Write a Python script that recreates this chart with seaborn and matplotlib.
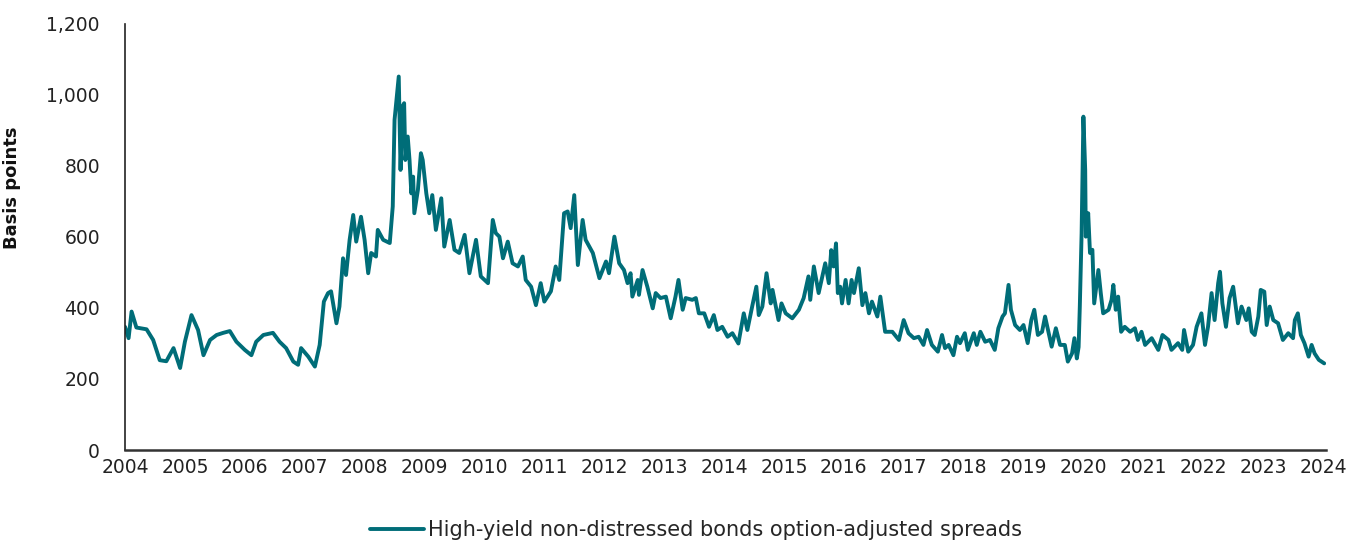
import matplotlib
matplotlib.use("Agg")
import matplotlib.pyplot as plt
import matplotlib.ticker as mticker
import seaborn as sns
import pandas as pd

# Spread readings (decimal year, basis points)
years = [
    2004.00, 2004.06, 2004.11, 2004.19, 2004.36, 2004.47, 2004.58, 2004.69, 2004.81, 2004.92,
    2005.00, 2005.11, 2005.22, 2005.31, 2005.42, 2005.53, 2005.64, 2005.75, 2005.86,
    2006.00, 2006.11, 2006.19, 2006.31, 2006.47, 2006.58, 2006.69, 2006.81, 2006.89, 2006.94,
    2007.06, 2007.17, 2007.25, 2007.32, 2007.39, 2007.44, 2007.53, 2007.58, 2007.64, 2007.69,
    2007.75, 2007.81, 2007.86, 2007.94,
    2008.00, 2008.06, 2008.11, 2008.19, 2008.22, 2008.31, 2008.42, 2008.47, 2008.50, 2008.57,
    2008.60, 2008.63, 2008.66, 2008.68, 2008.72, 2008.75, 2008.78, 2008.81, 2008.83, 2008.89,
    2008.94, 2008.97,
    2009.03, 2009.08, 2009.13, 2009.19, 2009.28, 2009.33, 2009.42, 2009.50, 2009.58, 2009.67,
    2009.75, 2009.86, 2009.94,
    2010.06, 2010.14, 2010.19, 2010.25, 2010.31, 2010.39, 2010.47, 2010.56, 2010.64, 2010.69,
    2010.78, 2010.86, 2010.94,
    2011.00, 2011.11, 2011.19, 2011.25, 2011.33, 2011.39, 2011.44, 2011.50, 2011.56, 2011.64,
    2011.69, 2011.81, 2011.92,
    2012.03, 2012.08, 2012.17, 2012.25, 2012.33, 2012.39, 2012.44, 2012.47, 2012.56, 2012.58,
    2012.64, 2012.72, 2012.81, 2012.86, 2012.94,
    2013.03, 2013.11, 2013.19, 2013.24, 2013.31, 2013.36, 2013.47, 2013.53, 2013.58, 2013.67,
    2013.75, 2013.83, 2013.89, 2013.97,
    2014.06, 2014.14, 2014.24, 2014.33, 2014.39, 2014.47, 2014.54, 2014.58, 2014.64, 2014.71,
    2014.78, 2014.81, 2014.91, 2014.96,
    2015.03, 2015.14, 2015.25, 2015.33, 2015.41, 2015.44, 2015.50, 2015.58, 2015.69, 2015.75,
    2015.79, 2015.83, 2015.87, 2015.90, 2015.94, 2015.97,
    2016.03, 2016.08, 2016.13, 2016.17, 2016.25, 2016.31, 2016.36, 2016.42, 2016.47, 2016.56,
    2016.61, 2016.69, 2016.81, 2016.92,
    2017.00, 2017.08, 2017.17, 2017.25, 2017.33, 2017.39, 2017.47, 2017.57, 2017.64, 2017.69,
    2017.75, 2017.83, 2017.89, 2017.94,
    2018.02, 2018.07, 2018.17, 2018.22, 2018.28, 2018.36, 2018.44, 2018.52, 2018.58, 2018.65,
    2018.69, 2018.75, 2018.79, 2018.86, 2018.94,
    2019.00, 2019.07, 2019.13, 2019.18, 2019.24, 2019.31, 2019.36, 2019.42, 2019.47, 2019.54,
    2019.61, 2019.69, 2019.74, 2019.81, 2019.85, 2019.89, 2019.92, 2019.94, 2019.97,
    2020.00, 2020.03, 2020.04, 2020.08, 2020.11, 2020.15, 2020.18, 2020.25, 2020.29, 2020.33,
    2020.42, 2020.47, 2020.50, 2020.54, 2020.58, 2020.63, 2020.69, 2020.78, 2020.86, 2020.91,
    2020.97,
    2021.03, 2021.14, 2021.25, 2021.32, 2021.42, 2021.47, 2021.58, 2021.65, 2021.68, 2021.75,
    2021.83, 2021.89, 2021.97,
    2022.03, 2022.08, 2022.14, 2022.19, 2022.25, 2022.28, 2022.32, 2022.38, 2022.44, 2022.50,
    2022.58, 2022.64, 2022.72, 2022.76, 2022.81, 2022.86, 2022.92, 2022.96,
    2023.02, 2023.06, 2023.11, 2023.17, 2023.25, 2023.33, 2023.42, 2023.50, 2023.53, 2023.58,
    2023.63, 2023.69, 2023.76, 2023.81, 2023.86, 2023.93, 2024.02,
]
spreads = [
    347, 315, 390, 345, 340, 310, 253, 250, 287, 231,
    305, 380, 338, 267, 310, 324, 330, 335, 305,
    282, 267, 305, 324, 330, 305, 287, 249, 240, 287,
    263, 235, 296, 418, 442, 447, 357, 404, 540, 493,
    592, 662, 587, 657,
    592, 498, 555, 545, 620, 592, 583, 686, 930, 1052,
    789, 967, 977, 817, 883, 817, 723, 770, 667, 733,
    836, 817,
    723, 667, 718, 620, 709, 573, 648, 564, 555, 606,
    498, 592, 489,
    470, 648, 611, 601, 540, 587, 526, 517, 545, 479,
    460, 408, 470,
    418, 447, 517, 479, 667, 672, 625, 718, 521, 648,
    592, 555, 484,
    531, 498, 601, 526, 507, 470, 498, 432, 479, 437,
    507, 460, 399, 442, 428,
    432, 371, 432, 479, 395, 428, 423, 428, 385, 385,
    347, 380, 338, 347,
    319, 329, 300, 385, 338, 404, 460, 380, 404, 498,
    413, 451, 366, 413,
    385, 371, 395, 428, 489, 423, 517, 442, 526, 470,
    563, 517, 582, 442, 460, 413,
    479, 413, 479, 442, 512, 408, 442, 385, 418, 376,
    432, 333, 333, 310,
    366, 329, 315, 319, 296, 338, 296, 277, 324, 287,
    296, 267, 319, 301,
    329, 282, 329, 296, 333, 305, 310, 282, 343, 376,
    385, 465, 395, 352, 338,
    352, 301, 366, 395, 324, 333, 376, 329, 291, 343,
    296, 296, 249, 272, 315, 258, 290, 404, 610,
    939, 789, 601, 667, 555, 564, 413, 507, 442, 385,
    395, 423, 465, 395, 432, 333, 347, 333, 343, 310,
    333,
    296, 315, 282, 324, 310, 282, 301, 282, 338, 277,
    296, 347, 385,
    296, 347, 442, 366, 470, 502, 413, 347, 428, 460,
    357, 404, 366, 399, 333, 324, 376, 451,
    446, 352, 404, 366, 357, 310, 329, 315, 366, 385,
    324, 301, 263, 296, 272, 254, 244,
]
series_name = "High-yield non-distressed bonds option-adjusted spreads"
year_ticks = list(range(2004, 2025))
value_ticks = [0, 200, 400, 600, 800, 1000, 1200]

df = pd.DataFrame({"year": years, "spread": spreads, "series": series_name})

sns.set_style("white")
plt.rcParams["font.family"] = ["DejaVu Sans"]

fig = plt.figure(figsize=(13.53, 5.42), dpi=100)
ax = fig.add_axes([125 / 1353, 1 - 450 / 542, (1326 - 125) / 1353, (450 - 24) / 542])

sns.lineplot(data=df, x="year", y="spread", hue="series", palette=["#006d78"],
             linewidth=2.8, estimator=None, ax=ax, legend=True)

ax.set_xlim(2004, 2024.05)
ax.set_ylim(0, 1200)
ax.set_xticks(year_ticks)
ax.set_xticklabels([str(y) for y in year_ticks])
ax.set_yticks(value_ticks)
ax.yaxis.set_major_formatter(mticker.FuncFormatter(lambda v, p: f"{int(v):,}"))
ax.tick_params(axis="y", length=0, pad=18, labelsize=13.5, colors="#222222")
ax.tick_params(axis="x", length=0, pad=6, labelsize=13.5, colors="#222222")

ax.set_xlabel("")
ax.set_ylabel("Basis points", fontsize=13, fontweight="bold", color="#111111")
ax.yaxis.set_label_coords(-0.087, 0.615)

for side in ["top", "right"]:
    ax.spines[side].set_visible(False)
ax.spines["left"].set_color("#222222")
ax.spines["left"].set_linewidth(1.2)
ax.spines["bottom"].set_color("#333333")
ax.spines["bottom"].set_linewidth(1.8)

handles, labels = ax.get_legend_handles_labels()
ax.get_legend().remove()
fig.legend(handles, labels, loc="center", bbox_to_anchor=(696 / 1353, 1 - 530 / 542),
           frameon=False, fontsize=15, handlelength=2.6, handletextpad=0.2)

fig.savefig("out.png", dpi=100)
